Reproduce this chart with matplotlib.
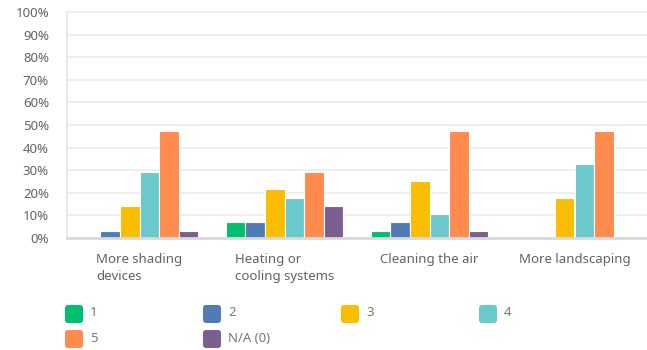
import numpy as np
import matplotlib.pyplot as plt
from matplotlib.patches import FancyBboxPatch

# answer options and their share of responses (%) for each idea
categories = ['More shading\ndevices', 'Heating or\ncooling systems',
              'Cleaning the air', 'More landscaping']
series = ['1', '2', '3', '4', '5', 'N/A (0)']
colors = ['#00BF6F', '#507CB6', '#F9BE00', '#6BC8CD', '#FF8B4F', '#7D5E90']

r1 = [0.0, 6.9, 3.2, 0.0]
r2 = [3.2, 6.9, 6.9, 0.0]
r3 = [14.2, 21.6, 25.3, 17.9]
r4 = [29.0, 17.9, 10.7, 32.7]
r5 = [47.4, 29.0, 47.4, 47.4]
na = [3.2, 14.2, 3.2, 0.0]
values = [r1, r2, r3, r4, r5, na]

plt.rcParams['font.family'] = ['Noto Sans', 'DejaVu Sans']
text_color = '#5f6368'

fig = plt.figure(figsize=(6.47, 3.5), dpi=100)
ax = fig.add_axes([67 / 647, 1 - 238 / 350, 580 / 647, 226 / 350])

x = np.arange(len(categories))
step = 0.135
for i, (name, vals) in enumerate(zip(series, values)):
    ax.bar(x + (i - 2.5) * step, vals, width=step, color=colors[i],
           edgecolor='white', linewidth=0.8, zorder=3)

ax.set_xlim(-0.5, 3.5)
ax.set_ylim(0, 100)
ax.set_yticks(np.arange(0, 101, 10))
ax.set_yticklabels([f'{v}%' for v in range(0, 101, 10)], color=text_color,
                   fontsize=9.5)
ax.set_xticks(x)
ax.set_xticklabels(categories, color=text_color, fontsize=9.5,
                   multialignment='left', linespacing=1.35)
ax.tick_params(axis='y', length=0, pad=13)
ax.tick_params(axis='x', length=0, pad=11)

ax.grid(axis='y', color='#eeeeee', linewidth=1.3, zorder=0, clip_on=False)
for s in ['top', 'right']:
    ax.spines[s].set_visible(False)
ax.spines['left'].set_color('#e6e6e6')
ax.spines['left'].set_linewidth(1.2)
ax.spines['bottom'].set_color('#d9d9d9')
ax.spines['bottom'].set_linewidth(2)
ax.spines['bottom'].set_zorder(4)

# legend drawn as rounded swatches, four per row
for i, (name, c) in enumerate(zip(series, colors)):
    col, row = i % 4, i // 4
    left = 65 + col * 138
    top = 304 + row * 25
    sw = FancyBboxPatch(((left + 3) / 100, (350 - top - 16) / 100),
                        0.12, 0.12, boxstyle='round,pad=0.03',
                        transform=fig.dpi_scale_trans, facecolor=c,
                        edgecolor='none')
    fig.patches.append(sw)
    fig.text((left + 25) / 647, 1 - (top + 9) / 350, name, color='#777777',
             fontsize=9.5, va='center', ha='left')

fig.savefig('out.png', dpi=100)
